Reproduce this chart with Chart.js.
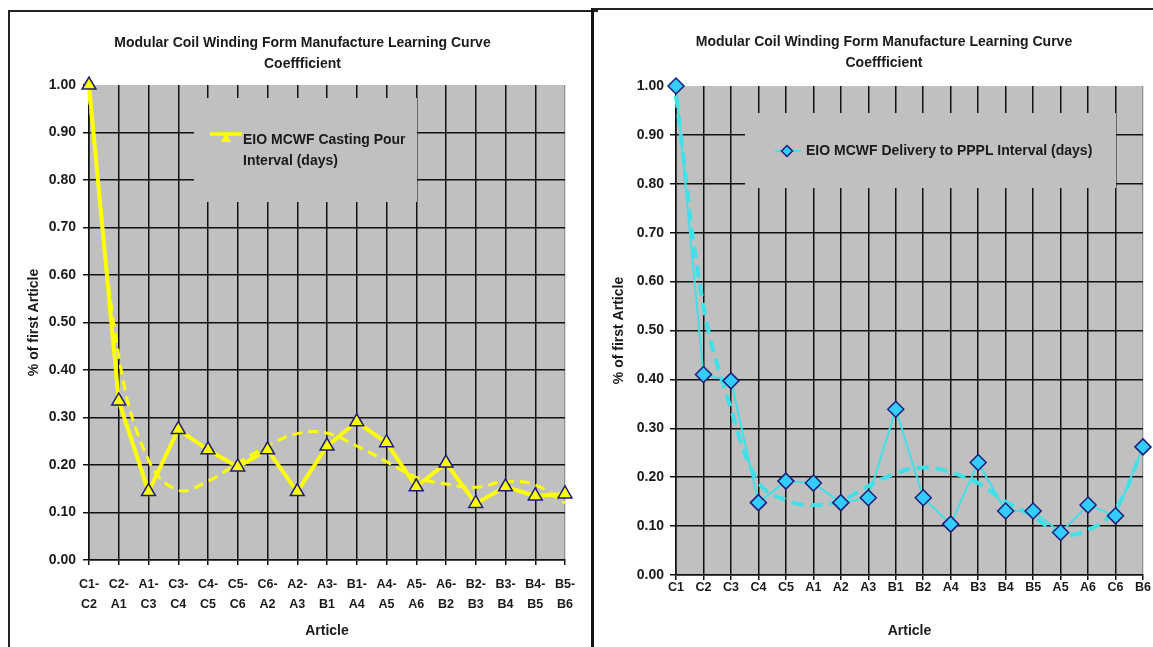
<!DOCTYPE html>
<html><head><meta charset="utf-8">
<script src="https://cdn.jsdelivr.net/npm/chart.js@4.4.0/dist/chart.umd.min.js"></script>
<style>
html,body{margin:0;padding:0;background:#fff;width:1153px;height:647px;overflow:hidden;}
#c1{position:absolute;left:0;top:0;}
#c2{position:absolute;left:593px;top:0;}
.frame{position:absolute;pointer-events:none;box-sizing:border-box;}
</style></head><body>
<canvas id="c1" width="593" height="647"></canvas>
<canvas id="c2" width="560" height="647"></canvas>
<div class="frame" style="left:8px;top:10px;width:590px;height:700px;border-top:2px solid #222;border-left:2px solid #222;"></div>
<div class="frame" style="left:591px;top:8px;width:600px;height:700px;border-top:2px solid #222;border-left:3px solid #111;"></div>
<script>
// ---------- DATA ----------
const chartTitle = ['Modular Coil Winding Form Manufacture Learning Curve', 'Coeffficient'];
const yAxisTitle = '% of first Article';
const xAxisTitle = 'Article';

const leftCategories = ['C1-C2','C2-A1','A1-C3','C3-C4','C4-C5','C5-C6','C6-A2','A2-A3','A3-B1','B1-A4','A4-A5','A5-A6','A6-B2','B2-B3','B3-B4','B4-B5','B5-B6'];
const leftSeriesName = 'EIO MCWF Casting Pour Interval (days)';
const leftValues = [1.00, 0.335, 0.144, 0.275, 0.232, 0.196, 0.232, 0.144, 0.240, 0.291, 0.247, 0.154, 0.204, 0.119, 0.154, 0.135, 0.139];
const leftTrend  = [0.98, 0.43, 0.21, 0.147, 0.166, 0.204, 0.240, 0.266, 0.267, 0.240, 0.207, 0.174, 0.160, 0.153, 0.165, 0.158, 0.120];

const rightCategories = ['C1','C2','C3','C4','C5','A1','A2','A3','B1','B2','A4','B3','B4','B5','A5','A6','C6','B6'];
const rightSeriesName = 'EIO MCWF Delivery to PPPL Interval (days)';
const rightValues = [1.00, 0.410, 0.397, 0.148, 0.192, 0.188, 0.148, 0.158, 0.339, 0.158, 0.104, 0.230, 0.131, 0.131, 0.087, 0.143, 0.121, 0.262];
const rightTrend  = [0.98, 0.55, 0.34, 0.19, 0.153, 0.143, 0.152, 0.182, 0.208, 0.220, 0.210, 0.188, 0.150, 0.120, 0.084, 0.092, 0.135, 0.260];

const yMin = 0, yMax = 1, yStep = 0.1;

// ---------- PLUGINS ----------
const plotBg = {
  id: 'plotBg',
  beforeDraw(chart) {
    const a = chart.chartArea, ctx = chart.ctx;
    ctx.save(); ctx.fillStyle = '#c0c0c0';
    ctx.fillRect(a.left, a.top, a.right - a.left, a.bottom - a.top);
    ctx.restore();
  }
};
function wrapText(ctx, text, maxW) {
  const words = text.split(' '); const lines = []; let cur = '';
  for (const w of words) {
    const t = cur ? cur + ' ' + w : w;
    if (ctx.measureText(t).width > maxW && cur) { lines.push(cur); cur = w; } else cur = t;
  }
  if (cur) lines.push(cur);
  return lines;
}
const boxLegend = {
  id: 'boxLegend',
  beforeDatasetsDraw(chart, args, o) {
    const ctx = chart.ctx; const ds = chart.data.datasets[0];
    ctx.save();
    ctx.fillStyle = '#c0c0c0';
    ctx.fillRect(o.box[0], o.box[1], o.box[2], o.box[3]);
    ctx.strokeStyle = ds.borderColor; ctx.lineWidth = o.lineW;
    ctx.beginPath(); ctx.moveTo(o.lx1, o.ly); ctx.lineTo(o.lx2, o.ly); ctx.stroke();
    ctx.fillStyle = ds.pointBackgroundColor;
    ctx.beginPath();
    const r = o.r, x = o.px, y = o.py;
    if (o.shape === 'triangle') {
      ctx.moveTo(x, y - r); ctx.lineTo(x + r * 0.87, y + r * 0.5); ctx.lineTo(x - r * 0.87, y + r * 0.5); ctx.closePath();
      ctx.fill();
    } else {
      ctx.moveTo(x, y - r); ctx.lineTo(x + r, y); ctx.lineTo(x, y + r); ctx.lineTo(x - r, y); ctx.closePath();
      ctx.fill(); ctx.strokeStyle = ds.pointBorderColor; ctx.lineWidth = 1.5; ctx.stroke();
    }
    ctx.fillStyle = '#1a1a1a';
    ctx.font = 'bold 14px Arial, "Liberation Sans", sans-serif';
    ctx.textBaseline = 'middle'; ctx.textAlign = 'left';
    const lines = wrapText(ctx, ds.label, o.maxW);
    lines.forEach((l, i) => ctx.fillText(l, o.tx, o.ty + i * 21));
    ctx.restore();
  }
};

const FONT = 'Arial, "Liberation Sans", sans-serif';

function makeChart(id, cats, values, trend, name, g) {
  const n = cats.length;
  return new Chart(document.getElementById(id), {
    type: 'line',
    data: {
      labels: cats,
      datasets: [
        Object.assign({
          label: name, data: values, tension: 0, clip: false, order: 0, fill: false
        }, g.series),
        Object.assign({
          label: 'trend', data: trend, tension: 0.4, pointRadius: 0, clip: false, order: 1, fill: false
        }, g.trend)
      ]
    },
    options: {
      responsive: false, animation: false, devicePixelRatio: 1,
      layout: { padding: { left: g.padL, right: g.padR, top: 0, bottom: 0 } },
      plugins: {
        legend: { display: false }, tooltip: { enabled: false },
        title: { display: true, text: chartTitle, color: '#1a1a1a',
          font: { family: FONT, size: 14, weight: 'bold', lineHeight: 1.5 },
          padding: { top: g.titleTop, bottom: g.titleBottom } },
        boxLegend: g.legend
      },
      scales: {
        x: {
          type: 'category', offset: false,
          grid: { color: c => (c.index === n - 1 ? 'rgba(0,0,0,0.25)' : '#111'), tickColor: '#111', lineWidth: 1.5, tickLength: 5 },
          border: { color: '#111', width: 1.5 },
          ticks: { color: '#1a1a1a', autoSkip: false, maxRotation: 0, minRotation: 0, padding: g.xTickPad,
            font: { family: FONT, size: 12.5, weight: 'bold', lineHeight: g.xLineH } },
          title: { display: true, text: xAxisTitle, color: '#1a1a1a',
            font: { family: FONT, size: 14, weight: 'bold', lineHeight: 1.2 }, padding: { top: 0, bottom: 7 } },
          afterFit: s => { s.height = g.xHeight; }
        },
        y: {
          min: yMin, max: yMax,
          grid: { color: c => (c.tick && c.tick.value === yMax ? 'rgba(0,0,0,0)' : '#111'), tickColor: '#111', lineWidth: 1.5, tickLength: 6 },
          border: { color: '#111', width: 1.5 },
          ticks: { stepSize: yStep, color: '#1a1a1a', padding: g.yTickPad, callback: v => Number(v).toFixed(2),
            font: { family: FONT, size: 14, weight: 'bold' } },
          title: { display: true, text: yAxisTitle, color: '#1a1a1a',
            font: { family: FONT, size: 14, weight: 'bold', lineHeight: 1.2 }, padding: { top: g.yTitlePad, bottom: 0 } },
          afterFit: s => { s.width = g.yWidth; }
        }
      }
    },
    plugins: [plotBg, boxLegend]
  });
}

makeChart('c1', leftCategories.map(s => { const p = s.split('-'); return [p[0] + '-', p[1]]; }), leftValues, leftTrend, leftSeriesName, {
  padL: 40, padR: 28, yWidth: 49, xHeight: 87, xTickPad: 10, xLineH: 1.6, yTickPad: 7, yTitlePad: -14.4,
  titleTop: 32.5, titleBottom: 10.5,
  series: { borderColor: '#ffff00', borderWidth: 4, pointStyle: 'triangle', pointRadius: 8,
    pointBackgroundColor: '#ffff00', pointBorderColor: '#1c1c7a', pointBorderWidth: 1.5 },
  trend: { borderColor: '#ffff00', borderWidth: 3, borderDash: [10, 6] },
  legend: { box: [194, 98, 223, 104], lineW: 3.5, lx1: 210, lx2: 242, ly: 134, shape: 'triangle', px: 226, py: 139, r: 6,
    tx: 243, ty: 140, maxW: 170 }
});

makeChart('c2', rightCategories, rightValues, rightTrend, rightSeriesName, {
  padL: 32, padR: 10, yWidth: 51, xHeight: 72, xTickPad: 0, xLineH: 1.2, yTickPad: 6, yTitlePad: -14.4,
  titleTop: 31.5, titleBottom: 12.5,
  series: { borderColor: '#40e0e8', borderWidth: 2, pointStyle: 'rectRot', pointRadius: 8,
    pointBackgroundColor: '#33ccff', pointBorderColor: '#1c1c7a', pointBorderWidth: 1.5 },
  trend: { borderColor: '#40e0e8', borderWidth: 4, borderDash: [12, 7] },
  legend: { box: [152, 113, 371, 75], lineW: 2, lx1: 182, lx2: 208, ly: 151, shape: 'diamond', px: 194, py: 151, r: 5.5,
    tx: 213, ty: 151, maxW: 340 }
});
</script>
</body></html>
